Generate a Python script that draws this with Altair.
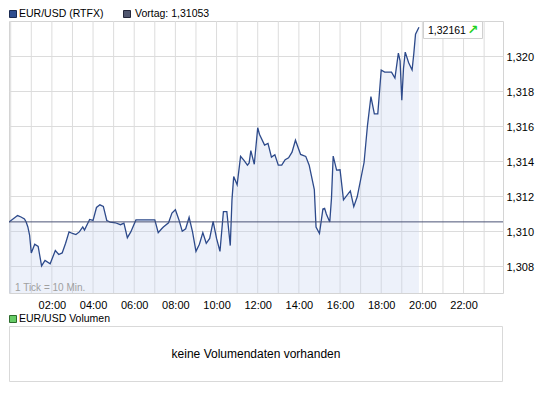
import altair as alt
import pandas as pd

# ---- data (minutes since 00:00, EUR/USD quote) ----
times = [-5, 20, 30, 40, 45, 50, 55, 60, 70, 80, 90, 100, 115, 130, 140, 150, 160, 170, 180, 190,
         200, 210, 215, 230, 240, 250, 260, 270, 280, 290, 305, 320, 330, 340, 350, 365, 420, 430,
         440, 445, 460, 470, 480, 490, 500, 510, 520, 530, 540, 550, 560, 570, 580, 590, 600, 610,
         620, 630, 640, 645, 650, 660, 670, 680, 690, 695, 700, 710, 720, 725, 740, 750, 760, 770,
         780, 790, 800, 810, 820, 830, 845, 860, 870, 885, 890, 900, 910, 915, 920, 930, 935, 940,
         950, 960, 970, 990, 1000, 1010, 1030, 1040, 1050, 1060, 1070, 1080, 1090, 1110, 1120,
         1130, 1135, 1140, 1145, 1150, 1160, 1170, 1175, 1180, 1190]
values = [1.31052, 1.31089, 1.31081, 1.31070, 1.31052, 1.31024, 1.30978, 1.30876, 1.30926, 1.30913,
          1.30802, 1.30833, 1.30814, 1.30890, 1.30867, 1.30876, 1.30931, 1.30996, 1.30987, 1.30981,
          1.30996, 1.31024, 1.31006, 1.31067, 1.31061, 1.31135, 1.31150, 1.31141, 1.31061, 1.31052,
          1.31048, 1.31037, 1.31046, 1.30963, 1.30996, 1.31064, 1.31064, 1.30992, 1.31014, 1.31024,
          1.31048, 1.31103, 1.31122, 1.31067, 1.31000, 1.31014, 1.31079, 1.30996, 1.30885, 1.30926,
          1.30992, 1.30931, 1.30959, 1.31056, 1.30959, 1.30885, 1.31111, 1.31111, 1.30918, 1.31180,
          1.31311, 1.31264, 1.31426, 1.31403, 1.31376, 1.31389, 1.31459, 1.31381, 1.31589, 1.31552,
          1.31490, 1.31500, 1.31422, 1.31435, 1.31376, 1.31376, 1.31407, 1.31418, 1.31450, 1.31518,
          1.31437, 1.31426, 1.31376, 1.31237, 1.31024, 1.30987, 1.31126, 1.31130, 1.31098, 1.31052,
          1.31187, 1.31428, 1.31348, 1.31350, 1.31178, 1.31229, 1.31140, 1.31196, 1.31391, 1.31603,
          1.31767, 1.31668, 1.31668, 1.31918, 1.31906, 1.31906, 1.31872, 1.32014, 1.31970, 1.31746,
          1.31928, 1.32020, 1.31959, 1.31918, 1.32011, 1.32122, 1.32161]
vortag = 1.31053
y_ticks = [1.308, 1.310, 1.312, 1.314, 1.316, 1.318, 1.320]
hour_ticks = list(range(0, 1440, 60))
x_domain = [-5, 1435]
y_domain = [1.30648, 1.32197]

series_label = "EUR/USD (RTFX)"
vortag_label = "Vortag: " + f"{vortag:.5f}".replace(".", ",")
last_label = f"{values[-1]:.5f}".replace(".", ",")
volume_label = "EUR/USD Volumen"
volume_msg = "keine Volumendaten vorhanden"
tick_note = "1 Tick = 10 Min."

# ---- layout ----
W, H = 494, 272
FONT = "Liberation Sans"
GRID = "#dcdcdc"

df = pd.DataFrame({"t": times, "v": values})
hours = pd.DataFrame({"t": hour_ticks})
one = pd.DataFrame({"a": [0]})

x_scale = alt.Scale(domain=x_domain, nice=False, zero=False)
y_scale = alt.Scale(domain=y_domain, nice=False, zero=False)

x_axis = alt.Axis(values=hour_ticks,
                  labelExpr="datum.value % 120 == 0 && datum.value > 0 ? "
                            "(datum.value < 600 ? '0' : '') + (datum.value / 60) + ':00' : ''",
                  grid=False, ticks=False, tickSize=0, domain=False,
                  labelPadding=6, labelFont=FONT, labelFontSize=11, labelColor="#000000",
                  labelFlush=False, labelOverlap=False, title=None)
y_axis = alt.Axis(orient="right", values=y_ticks,
                  labelExpr="replace(format(datum.value, '.3f'), '.', ',')",
                  grid=True, gridColor=GRID, ticks=False, tickSize=0, domain=False,
                  labelPadding=3, labelAlign="left", labelOffset=1.5,
                  labelFont=FONT, labelFontSize=11, labelColor="#000000",
                  labelFlush=False, labelOverlap=False, title=None)

vgrid = alt.Chart(hours).mark_rule(color=GRID, strokeWidth=1).encode(
    x=alt.X("t:Q", scale=x_scale, axis=x_axis))
area = alt.Chart(df).mark_area(color="#c5d0ee", opacity=0.3, clip=True).encode(
    x=alt.X("t:Q", scale=x_scale, axis=x_axis),
    y=alt.Y("v:Q", scale=y_scale, axis=y_axis),
    y2=alt.value(H))
line = alt.Chart(df).mark_line(color="#2d4a8b", strokeWidth=1.3, clip=True).encode(
    x="t:Q", y="v:Q")
rule = alt.Chart(pd.DataFrame({"v": [vortag]})).mark_rule(color="#4b5375", strokeWidth=1).encode(
    y="v:Q")


def rect(x1, x2, y1, y2, fill, stroke):
    return alt.Chart(one).mark_rect(fill=fill, stroke=stroke, strokeWidth=1).encode(
        x=alt.value(x1), x2=alt.value(x2), y=alt.value(y1), y2=alt.value(y2))


def text(s, x, y, size=10.5, color="#000000", align="left", font=FONT, weight="normal"):
    return alt.Chart(one).mark_text(align=align, baseline="middle", font=font, fontSize=size,
                                    color=color, fontWeight=weight).encode(
        x=alt.value(x), y=alt.value(y), text=alt.value(s))


layers = [
    vgrid, area, line, rule,
    # last value box
    rect(414.5, 473.5, 0.5, 17.5, "#ffffff", "#d0d0d0"),
    text(last_label, 419, 9.5, size=10.5),
    text("\u2197", 464, 8.5, size=13, color="#1ed21e", align="center", font="DejaVu Sans", weight="bold"),
    # tick note
    text(tick_note, 6, H - 5.5, size=10, color="#a0a0a0"),
    # top legend
    rect(0.5, 7.5, -10.5, -3.5, "#2e4d8f", "#1a2a50"),
    text(series_label, 10, -7, size=10.5),
    rect(114.5, 121.5, -10.5, -3.5, "#50566f", "#23263a"),
    text(vortag_label, 126, -7, size=10.5),
    # volume panel
    rect(0.5, 7.5, 294.5, 301.5, "#66cc66", "#2d6b2d"),
    text(volume_label, 10, 298, size=10.5),
    rect(0.5, W - 0.5, 305.5, 360.5, "#ffffff", "#d9d9d9"),
    text(volume_msg, W / 2, 333, size=12, align="center"),
]

chart = alt.layer(*layers).properties(
    width=W, height=H,
    autosize=alt.AutoSizeParams(type="none"),
    padding={"left": 1, "top": 13, "right": 32, "bottom": 90},
    background="#ffffff",
).configure_view(stroke="#d4d4d4", strokeWidth=1)

chart.save("out.html", embed_options={"renderer": "svg", "actions": False})
